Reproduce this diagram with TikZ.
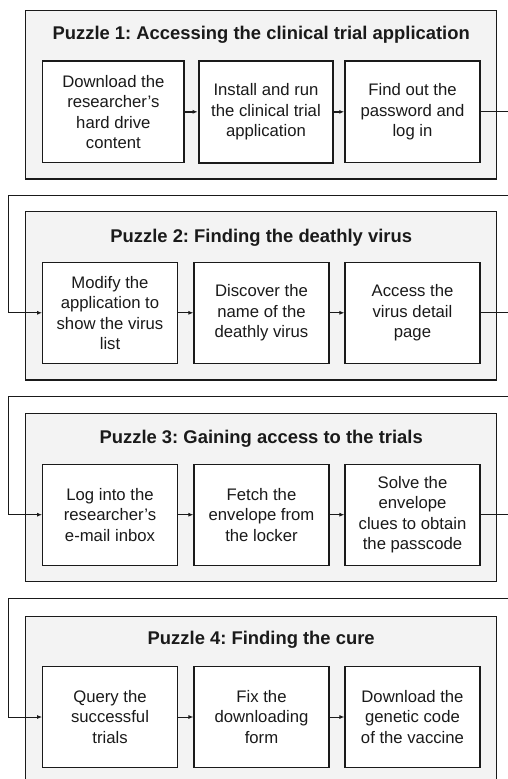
\documentclass[tikz,border=0pt]{standalone}
\usepackage{fontspec}
\setmainfont{Liberation Sans}
\usetikzlibrary{arrows.meta}
\definecolor{panel}{HTML}{F3F3F3}
\definecolor{ink}{HTML}{1A1A1A}
\frenchspacing
\begin{document}
\begin{tikzpicture}[x=1pt,y=-1pt,
  panelbox/.style={draw=ink, fill=panel, line width=1.1pt, minimum width=471pt, minimum height=168.3pt, inner sep=0pt},
  stepbox/.style={draw=ink, fill=white, line width=1.1pt, minimum height=101.3pt, inner sep=0pt, align=center, font=\fontsize{16.7}{20.5}\selectfont, text=ink},
  ptitle/.style={font=\fontsize{18.4}{22}\selectfont\bfseries, text=ink, inner sep=0pt},
  conn/.style={draw=ink, line width=1pt, -{Latex[length=5pt,width=4pt]}},
  thickconn/.style={conn, line width=1.6pt}]
\useasboundingbox (0,0) rectangle (508,779);
\clip (0,0) rectangle (508,779);

% ---------- Puzzle 1 ----------
\node[panelbox, line width=1.5pt] (p1) at (261.2,94.85) {};
\node[ptitle] (t1) at (261.2,35) {Puzzle 1: Accessing the clinical trial application};
\node[stepbox, line width=1.5pt, minimum width=141.3pt] (a1) at (113.35,111.85) {Download the\\researcher's\\hard drive\\content};
\node[stepbox, line width=2pt, minimum width=134.6pt] (a2) at (266,111.85) {Install and run\\the clinical trial\\application};
\node[stepbox, line width=1.5pt, minimum width=135pt] (a3) at (412.5,111.85) {Find out the\\password and\\log in};

% ---------- Puzzle 2 ----------
\node[panelbox] (p2) at (261.2,295.85) {};
\node[ptitle] (t2) at (261.2,238) {Puzzle 2: Finding the deathly virus};
\node[stepbox, minimum width=134.6pt] (b1) at (110,312.8) {Modify the\\application to\\show the virus\\list};
\node[stepbox, minimum width=135pt] (b2) at (261.5,312.8) {Discover the\\name of the\\deathly virus};
\node[stepbox, minimum width=135pt] (b3) at (412.5,312.8) {Access the\\virus detail\\page};

% ---------- Puzzle 3 ----------
\node[panelbox] (p3) at (261.2,497.5) {};
\node[ptitle] (t3) at (261.2,439) {Puzzle 3: Gaining access to the trials};
\node[stepbox, minimum width=134.6pt] (c1) at (110,514.7) {Log into the\\researcher's\\e-mail inbox};
\node[stepbox, minimum width=135pt] (c2) at (261.5,514.7) {Fetch the\\envelope from\\the locker};
\node[stepbox, minimum width=135pt] (c3) at (412.5,514.7) {Solve the\\envelope\\clues to obtain\\the passcode};

% ---------- Puzzle 4 ----------
\node[panelbox] (p4) at (261.2,700.85) {};
\node[ptitle] (t4) at (261.2,640) {Puzzle 4: Finding the cure};
\node[stepbox, minimum width=134.6pt] (d1) at (110,717) {Query the\\successful\\trials};
\node[stepbox, minimum width=135pt] (d2) at (261.5,717) {Fix the\\downloading\\form};
\node[stepbox, minimum width=135pt] (d3) at (412.5,717) {Download the\\genetic code\\of the vaccine};

% ---------- loop corner coordinates ----------
\coordinate (r1) at (530,195);
\coordinate (l1) at (8.3,195);
\coordinate (r2) at (530,396.7);
\coordinate (l2) at (8.3,396.7);
\coordinate (r3) at (530,598.3);
\coordinate (l3) at (8.3,598.3);

% ---------- connectors ----------
\draw[thickconn] (a1) -- (a2);
\draw[thickconn] (a2) -- (a3);
\draw[conn] (a3.east) -| (r1) -- (l1) |- (b1.west);

\draw[conn] (b1) -- (b2);
\draw[conn] (b2) -- (b3);
\draw[conn] (b3.east) -| (r2) -- (l2) |- (c1.west);

\draw[conn] (c1) -- (c2);
\draw[conn] (c2) -- (c3);
\draw[conn] (c3.east) -| (r3) -- (l3) |- (d1.west);

\draw[conn] (d1) -- (d2);
\draw[conn] (d2) -- (d3);
\end{tikzpicture}
\end{document}
